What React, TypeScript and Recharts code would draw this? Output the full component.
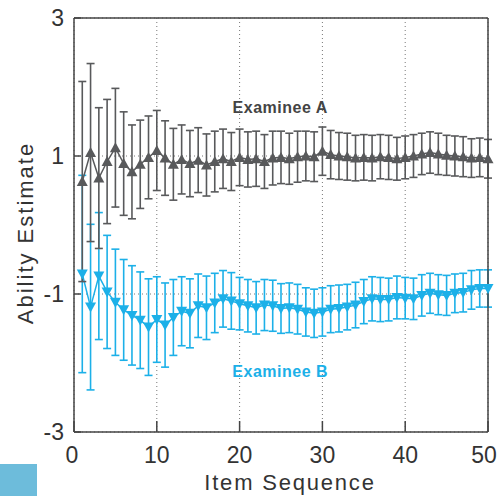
import { CartesianGrid, ErrorBar, Line, LineChart, ReferenceDot, XAxis, YAxis } from "recharts";

const items = [
  1, 2, 3, 4, 5, 6, 7, 8, 9, 10, 11, 12, 13, 14, 15, 16, 17, 18, 19, 20, 21, 22, 23, 24, 25,
  26, 27, 28, 29, 30, 31, 32, 33, 34, 35, 36, 37, 38, 39, 40, 41, 42, 43, 44, 45, 46, 47, 48, 49, 50,
];

const examineeA = [
  0.63, 1.05, 0.68, 0.92, 1.12, 0.89, 0.77, 0.88, 0.98, 1.08, 0.97, 0.88, 0.95, 0.89, 0.94, 0.87, 0.92,
  0.96, 0.92, 0.98, 0.95, 0.96, 0.92, 0.97, 0.98, 0.96, 0.99, 1.0, 0.99, 1.07, 1.02, 1.0, 0.99, 0.97,
  0.98, 0.97, 0.99, 0.98, 0.96, 0.98, 1.0, 1.03, 1.05, 1.03, 1.01, 1.0, 0.99, 0.97, 0.98, 0.96,
];
const errorA = [
  1.45, 1.29, 1.02, 0.9, 0.86, 0.75, 0.68, 0.64, 0.6, 0.58, 0.54, 0.52, 0.5, 0.48, 0.47, 0.45, 0.44,
  0.43, 0.42, 0.41, 0.4, 0.4, 0.39, 0.39, 0.38, 0.37, 0.37, 0.36, 0.36, 0.35, 0.35, 0.34, 0.34, 0.33,
  0.33, 0.33, 0.32, 0.32, 0.31, 0.31, 0.31, 0.3, 0.3, 0.3, 0.29, 0.29, 0.29, 0.28, 0.28, 0.28,
];

const examineeB = [
  -0.71, -1.19, -0.74, -0.97, -1.12, -1.23, -1.31, -1.38, -1.48, -1.37, -1.45, -1.34, -1.25, -1.28,
  -1.17, -1.2, -1.13, -1.07, -1.1, -1.14, -1.17, -1.2, -1.16, -1.17, -1.21, -1.2, -1.22, -1.26, -1.28,
  -1.26, -1.22, -1.21, -1.19, -1.16, -1.11, -1.07, -1.08, -1.08, -1.05, -1.06, -1.07, -1.02, -0.99,
  -1.01, -1.02, -0.99, -0.98, -0.94, -0.92, -0.92,
];
const errorB = [
  1.43, 1.2, 0.92, 0.82, 0.77, 0.73, 0.72, 0.7, 0.7, 0.62, 0.61, 0.55, 0.5, 0.5, 0.46, 0.46, 0.43,
  0.41, 0.41, 0.38, 0.38, 0.38, 0.37, 0.37, 0.36, 0.36, 0.36, 0.35, 0.35, 0.35, 0.34, 0.34, 0.33,
  0.33, 0.32, 0.32, 0.32, 0.31, 0.31, 0.3, 0.3, 0.3, 0.29, 0.29, 0.29, 0.28, 0.28, 0.28, 0.27, 0.27,
];

const xTicks = [0, 10, 20, 30, 40, 50];
const yTicks = [-3, -1, 1, 3];

const GREY = "#58595b";
const BLUE = "#1cb0e8";
const AXIS = "#444";
const FONT = "'Liberation Sans', Arial, sans-serif";

const data = items.map((item, i) => ({
  item,
  a: examineeA[i],
  errA: errorA[i],
  b: examineeB[i],
  errB: errorB[i],
}));

function UpTriangle(props: any) {
  const { cx, cy, key } = props;
  if (cx == null || cy == null) return <g key={key} />;
  return <polygon key={key} points={`${cx - 5.5},${cy + 4.5} ${cx + 5.5},${cy + 4.5} ${cx},${cy - 5.5}`} fill={GREY} />;
}

function DownTriangle(props: any) {
  const { cx, cy, key } = props;
  if (cx == null || cy == null) return <g key={key} />;
  return <polygon key={key} points={`${cx - 5.5},${cy - 4.5} ${cx + 5.5},${cy - 4.5} ${cx},${cy + 5.5}`} fill={BLUE} />;
}

// last label sits a bit inside the frame, like the original
function XTick(props: any) {
  const { x, y, payload } = props;
  const shift = payload.value === 50 ? -4 : payload.value === 0 ? -2 : 0;
  return (
    <text x={x + shift} y={y} dy="0.71em" textAnchor="middle" fontSize={23} fill="#333" fontFamily={FONT}>
      {payload.value}
    </text>
  );
}

export default function App() {
  const tickStyle = { fontSize: 23, fill: "#333", fontFamily: FONT };
  return (
    <div style={{ position: "absolute", left: 0, top: 0, width: 499, height: 496, background: "#fff" }}>
      <LineChart width={499} height={496} data={data} margin={{ top: 17, right: 10, bottom: 0, left: 0 }}>
        <CartesianGrid stroke="#777" strokeDasharray="1 3" strokeWidth={1} />
        <XAxis
          dataKey="item"
          type="number"
          domain={[0, 50]}
          ticks={xTicks}
          interval={0}
          height={64}
          tick={XTick}
          tickSize={-11}
          tickMargin={26}
          stroke={AXIS}
          strokeWidth={1.5}
          label={{
            value: "Item Sequence",
            position: "insideBottom",
            offset: 6,
            dx: 9,
            fontSize: 22,
            letterSpacing: 1.8,
            fill: "#333",
            fontFamily: FONT,
          }}
        />
        <XAxis
          xAxisId="top"
          orientation="top"
          dataKey="item"
          type="number"
          domain={[0, 50]}
          ticks={xTicks}
          interval={0}
          height={1}
          tick={false}
          tickSize={-11}
          stroke={AXIS}
          strokeWidth={1.5}
        />
        <YAxis
          type="number"
          domain={[-3, 3]}
          ticks={yTicks}
          interval={0}
          width={74}
          tick={tickStyle}
          tickSize={-7}
          tickMargin={17}
          stroke={AXIS}
          strokeWidth={1.5}
          allowDataOverflow
          label={{
            value: "Ability Estimate",
            angle: -90,
            position: "insideLeft",
            offset: 25,
            dy: 8,
            fontSize: 22,
            letterSpacing: 2,
            fill: "#333",
            fontFamily: FONT,
            style: { textAnchor: "middle" },
          }}
        />
        <YAxis
          yAxisId="right"
          orientation="right"
          type="number"
          domain={[-3, 3]}
          ticks={yTicks}
          interval={0}
          width={1}
          tick={false}
          tickSize={-9}
          stroke={AXIS}
          strokeWidth={1.5}
        />
        <Line
          dataKey="b"
          stroke={BLUE}
          strokeWidth={1.5}
          dot={DownTriangle}
          activeDot={false}
          isAnimationActive={false}
        >
          <ErrorBar dataKey="errB" direction="y" width={4} stroke={BLUE} strokeWidth={1.6} isAnimationActive={false} />
        </Line>
        <Line
          dataKey="a"
          stroke={GREY}
          strokeWidth={1.5}
          dot={UpTriangle}
          activeDot={false}
          isAnimationActive={false}
        >
          <ErrorBar dataKey="errA" direction="y" width={4} stroke={GREY} strokeWidth={1.6} isAnimationActive={false} />
        </Line>
        <ReferenceDot
          x={24.9}
          y={1.71}
          r={0}
          ifOverflow="visible"
          label={{
            value: "Examinee A",
            position: "center",
            fontSize: 16,
            letterSpacing: 0.5,
            fontWeight: "bold",
            fill: "#444",
            fontFamily: FONT,
          }}
        />
        <ReferenceDot
          x={24.9}
          y={-2.12}
          r={0}
          ifOverflow="visible"
          label={{
            value: "Examinee B",
            position: "center",
            fontSize: 16,
            letterSpacing: 0.5,
            fontWeight: "bold",
            fill: BLUE,
            fontFamily: FONT,
          }}
        />
      </LineChart>
      <div style={{ position: "absolute", left: 0, top: 464, width: 37, height: 32, background: "#6dbcdb" }} />
    </div>
  );
}
